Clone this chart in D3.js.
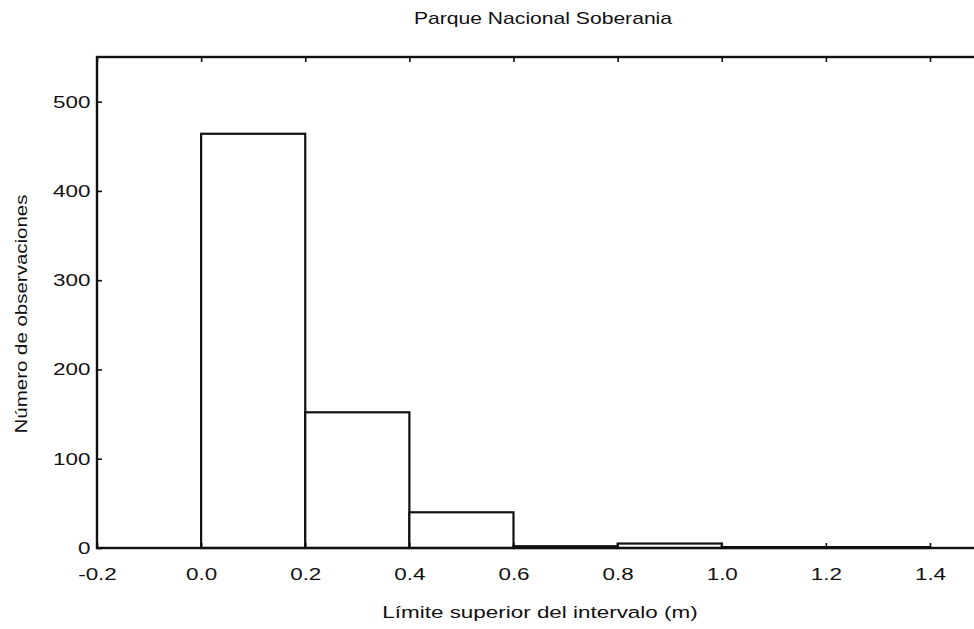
<!DOCTYPE html>
<html>
<head>
<meta charset="utf-8">
<script src="https://cdn.jsdelivr.net/npm/d3@7"></script>
<style>
  body { margin: 0; background: #fff; }
  text { font-family: "Liberation Sans", Arial, sans-serif; fill: #111; }
</style>
</head>
<body>
<div id="chart"></div>
<script>
// histogram bins (lower limit, m) and counts
const binStarts = [0.0, 0.2, 0.4, 0.6, 0.8, 1.0, 1.2];
const binCounts = [464, 152, 40, 2, 5, 1, 1];
const binWidth = 0.2;

const xTicks = [-0.2, 0.0, 0.2, 0.4, 0.6, 0.8, 1.0, 1.2, 1.4];
const yTicks = [0, 100, 200, 300, 400, 500];

const titleText = 'Parque Nacional Soberania';
const xLabelText = 'Límite superior del intervalo (m)';
const yLabelText = 'Número de observaciones';

const width = 974;
const height = 629;
const plot = { left: 97, top: 57, bottom: 548, right: 990 };
const stretch = 1.32; // the scanned font is wider than Arial

const svg = d3.select('#chart').append('svg')
  .attr('width', width)
  .attr('height', height)
  .style('background', '#fff');

const xScale = d3.scaleLinear().domain([-0.2, 1.4]).range([97, 930]);
const yScale = d3.scaleLinear().domain([0, 550]).range([plot.bottom, plot.top]);

const bins = binStarts.map((b, i) => ({ lo: b, hi: b + binWidth, count: binCounts[i] }));

// bars
function drawBars(g, arr) {
  g.append('g').attr('id', 'bars').selectAll('rect')
    .data(arr)
    .enter()
    .append('rect')
    .attr('x', d => xScale(d.lo))
    .attr('y', d => yScale(d.count))
    .attr('width', d => xScale(d.hi) - xScale(d.lo))
    .attr('height', d => yScale(0) - yScale(d.count))
    .style('fill', '#fff')
    .style('stroke', '#111')
    .style('stroke-width', 2.2);
}

// axes with small inward ticks
function drawAxes(g) {
  const yAxis = g.append('g')
    .attr('transform', `translate(${plot.left},0)`)
    .call(d3.axisLeft(yScale).tickValues(yTicks).tickSize(-5).tickPadding(5));
  yAxis.select('.domain').remove();
  yAxis.selectAll('text')
    .style('font-size', '17px')
    .attr('transform', `scale(${stretch},1)`);

  const xAxis = g.append('g')
    .attr('transform', `translate(0,${plot.bottom})`)
    .call(d3.axisBottom(xScale).tickValues(xTicks).tickSize(-5).tickPadding(20)
      .tickFormat(d => d.toFixed(1)));
  xAxis.select('.domain').remove();
  xAxis.selectAll('text')
    .style('font-size', '17px')
    .attr('transform', `scale(${stretch},1)`);

  const topAxis = g.append('g')
    .attr('transform', `translate(0,${plot.top})`)
    .call(d3.axisTop(xScale).tickValues(xTicks).tickSize(-5).tickFormat(''));
  topAxis.select('.domain').remove();

  g.selectAll('.tick line').style('stroke', '#111').style('stroke-width', 1.6);
}

function drawFrame(g) {
  g.append('rect')
    .attr('x', plot.left)
    .attr('y', plot.top)
    .attr('width', plot.right - plot.left)
    .attr('height', plot.bottom - plot.top)
    .style('fill', 'none')
    .style('stroke', '#111')
    .style('stroke-width', 2.4);
}

function drawLabels(g) {
  g.append('text')
    .attr('transform', `translate(543,24) scale(${stretch},1)`)
    .attr('text-anchor', 'middle')
    .style('font-size', '16px')
    .text(titleText);

  g.append('text')
    .attr('transform', `translate(540,618) scale(${stretch},1)`)
    .attr('text-anchor', 'middle')
    .style('font-size', '17px')
    .text(xLabelText);

  g.append('text')
    .attr('transform', `translate(27,314) rotate(-90) scale(1.28,1)`)
    .attr('text-anchor', 'middle')
    .style('font-size', '16px')
    .text(yLabelText);
}

drawBars(svg, bins);
drawFrame(svg);
drawAxes(svg);
drawLabels(svg);
</script>
</body>
</html>
